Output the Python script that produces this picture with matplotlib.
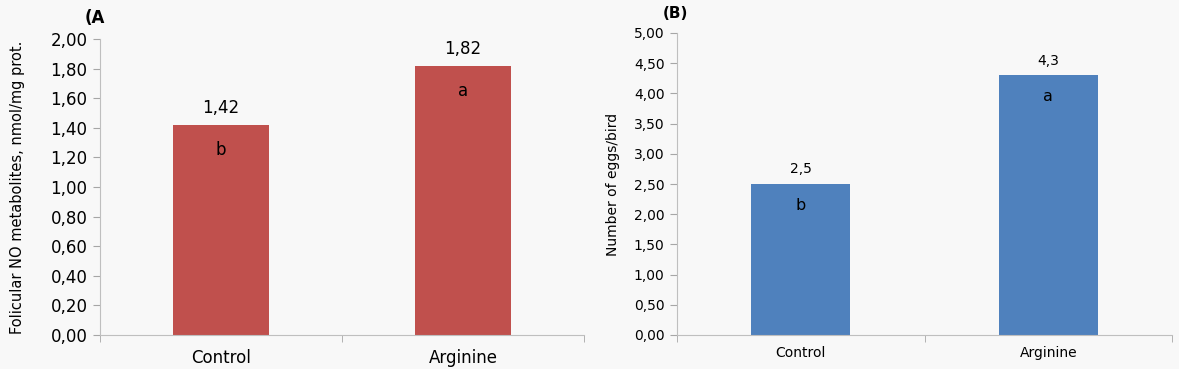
import matplotlib.pyplot as plt
import numpy as np

categories = ["Control", "Arginine"]
no_values = [1.42, 1.82]
no_letters = ["b", "a"]
egg_values = [2.5, 4.3]
egg_letters = ["b", "a"]
no_ticks = np.arange(0, 2.01, 0.2)
egg_ticks = np.arange(0, 5.01, 0.5)

BG = "#f8f8f8"
plt.rcParams["font.family"] = "DejaVu Sans"

fig = plt.figure(figsize=(11.79, 3.69), dpi=100, facecolor=BG)
W, H = 1179, 369


def panel(left, right, top, bottom, values, letters, ticks, color, ylabel,
          tick_fs, label_fs, val_fs, let_fs, let_off, ylab_x, xpad, val_fmt):
    ax = fig.add_axes([left / W, 1 - bottom / H, (right - left) / W, (bottom - top) / H])
    ax.set_facecolor(BG)
    x = np.arange(len(values))
    ax.bar(x, values, width=0.4, color=color)
    ax.set_xlim(-0.5, len(values) - 0.5)
    ax.set_ylim(ticks[0], ticks[-1])
    ax.set_yticks(ticks)
    ax.set_yticklabels([f"{t:.2f}".replace(".", ",") for t in ticks], fontsize=tick_fs)
    ax.set_xticks(x)
    ax.set_xticklabels(categories, fontsize=tick_fs)
    ax.set_xticks(np.arange(-0.5, len(values), 1.0), minor=True)
    ax.tick_params(axis="x", which="major", length=0, pad=xpad)
    ax.tick_params(axis="x", which="minor", length=5, color="#a6a6a6")
    ax.tick_params(axis="y", length=5, color="#a6a6a6", pad=4)
    for s in ["top", "right"]:
        ax.spines[s].set_visible(False)
    for s in ["left", "bottom"]:
        ax.spines[s].set_color("#bfbfbf")
    ax.set_ylabel(ylabel, fontsize=label_fs)
    ax.yaxis.set_label_coords(ylab_x, 0.5)
    span = ticks[-1] - ticks[0]
    for xi, v, l in zip(x, values, letters):
        ax.text(xi, v + span * 0.025, val_fmt(v), ha="center", va="bottom", fontsize=val_fs)
        ax.text(xi, v - span * let_off, l, ha="center", va="top", fontsize=let_fs)
    return ax


axA = panel(100, 584, 39, 335, no_values, no_letters, no_ticks, "#c0504d",
            "Folicular NO metabolites, nmol/mg prot.", 12, 10.5, 12, 12, 0.055, -0.155, 10,
            lambda v: f"{v:.2f}".replace(".", ","))
axB = panel(677, 1172, 33, 335, egg_values, egg_letters, egg_ticks, "#4f81bd",
            "Number of eggs/bird", 10, 10, 10, 11.5, 0.045, -0.115, 8,
            lambda v: f"{v:g}".replace(".", ","))

fig.text(85 / W, 1 - 18 / H, "(A", fontsize=12, fontweight="bold", va="center")
fig.text(663 / W, 1 - 14 / H, "(B)", fontsize=11, fontweight="bold", va="center")

fig.savefig("out.png", dpi=100, facecolor=BG)
